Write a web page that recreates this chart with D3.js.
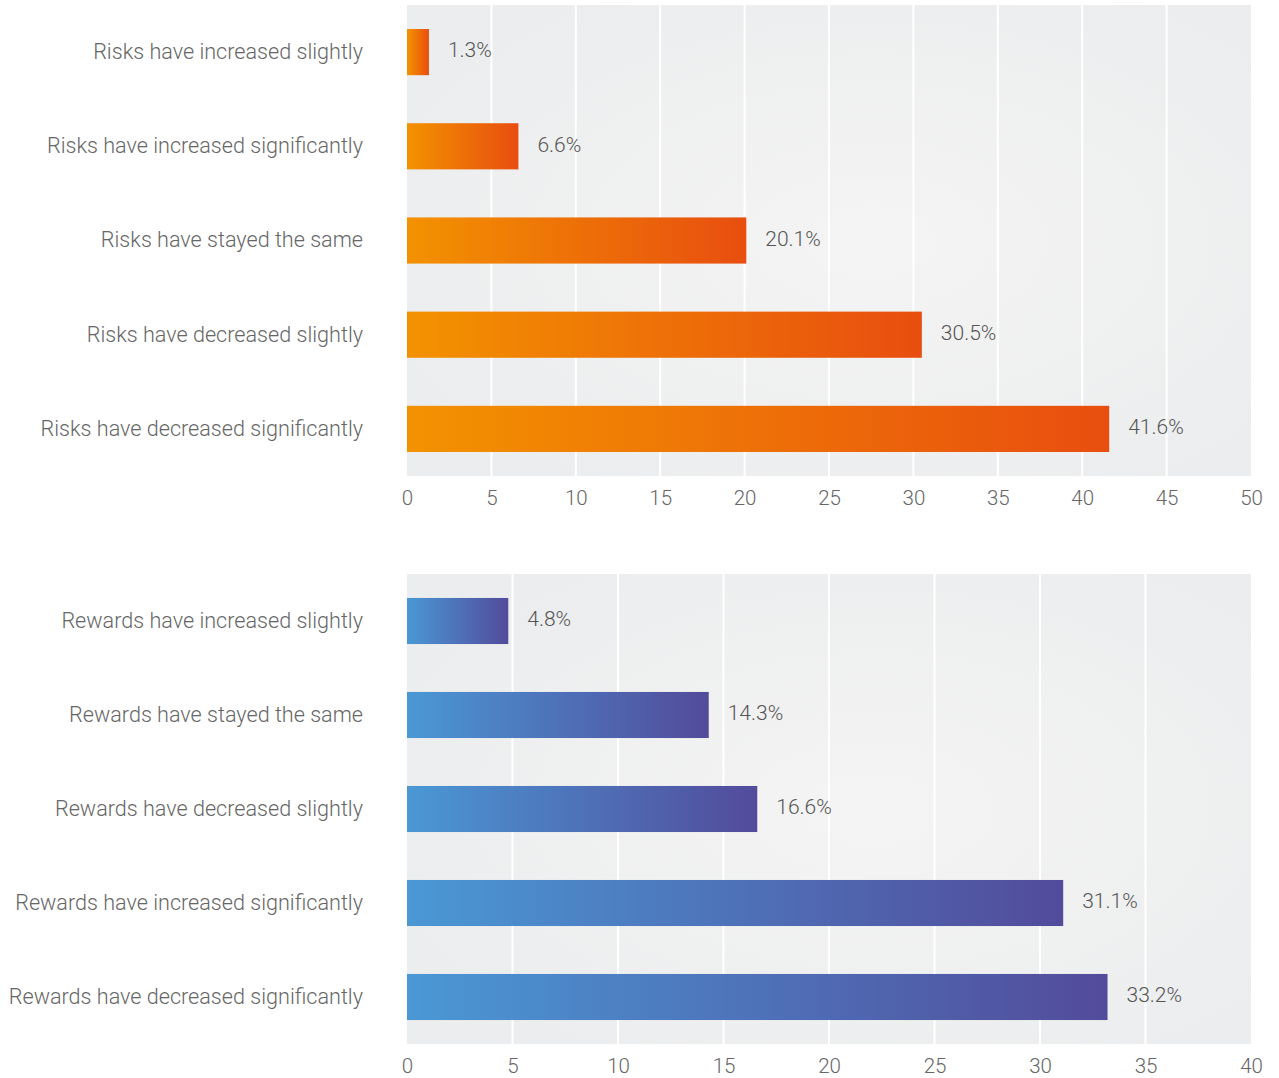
<!DOCTYPE html>
<html>
<head>
<meta charset="utf-8">
<script src="https://cdn.jsdelivr.net/npm/d3@7"></script>
<style>
  html, body { margin: 0; padding: 0; background: #fff; }
  svg { display: block; font-family: Roboto, "Open Sans", sans-serif; }
</style>
</head>
<body>
<svg id="chart" width="1279" height="1078"></svg>
<script>
// Survey answers: how risks and rewards have changed (percent of respondents)
const riskCategories = [
  "Risks have increased slightly",
  "Risks have increased significantly",
  "Risks have stayed the same",
  "Risks have decreased slightly",
  "Risks have decreased significantly"
];
const riskValues = [1.3, 6.6, 20.1, 30.5, 41.6];
const riskTicks = [0, 5, 10, 15, 20, 25, 30, 35, 40, 45, 50];

const rewardCategories = [
  "Rewards have increased slightly",
  "Rewards have stayed the same",
  "Rewards have decreased slightly",
  "Rewards have increased significantly",
  "Rewards have decreased significantly"
];
const rewardValues = [4.8, 14.3, 16.6, 31.1, 33.2];
const rewardTicks = [0, 5, 10, 15, 20, 25, 30, 35, 40];

const svg = d3.select("#chart");
const defs = svg.append("defs");

function linear(id, c0, c1) {
  const g = defs.append("linearGradient").attr("id", id)
    .attr("x1", "0%").attr("x2", "100%").attr("y1", "0%").attr("y2", "0%");
  g.append("stop").attr("offset", "0%").attr("stop-color", c0);
  g.append("stop").attr("offset", "100%").attr("stop-color", c1);
}
linear("gradRisk", "#f39200", "#e84e0f");
linear("gradReward", "#4a98d5", "#524b9b");

const bg = defs.append("radialGradient").attr("id", "plotBg")
  .attr("cx", "55%").attr("cy", "50%").attr("r", "60%");
bg.append("stop").attr("offset", "0%").attr("stop-color", "#f4f4f4");
bg.append("stop").attr("offset", "100%").attr("stop-color", "#ecedee");

function drawPanel(cfg) {
  const { top, bottom, left, right, categories, values, ticks, gradient } = cfg;
  const x = d3.scaleLinear().domain([ticks[0], ticks[ticks.length - 1]]).range([left, right]);
  const y = d3.scaleBand().domain(categories).range([top, bottom]).paddingInner(0.51).paddingOuter(0.255);

  const g = svg.append("g");

  g.append("rect")
    .attr("x", left).attr("y", top)
    .attr("width", right - left).attr("height", bottom - top)
    .attr("fill", "url(#plotBg)");

  g.append("g").selectAll("line")
    .data(ticks.slice(1, -1))
    .join("line")
    .attr("x1", d => x(d)).attr("x2", d => x(d))
    .attr("y1", top).attr("y2", bottom)
    .attr("stroke", "#ffffff").attr("stroke-width", 2);

  const rows = g.append("g").selectAll("g")
    .data(categories.map((c, i) => ({ c, v: values[i] })))
    .join("g");

  rows.append("rect")
    .attr("x", x(0))
    .attr("y", d => y(d.c))
    .attr("width", d => x(d.v) - x(0))
    .attr("height", y.bandwidth())
    .attr("fill", `url(#${gradient})`);

  rows.append("text")
    .attr("x", d => x(d.v) + 19)
    .attr("y", d => y(d.c) + y.bandwidth() / 2 - 2)
    .attr("dy", "0.35em")
    .attr("font-size", 21).attr("font-weight", 300)
    .attr("fill", "#555")
    .text(d => d.v.toFixed(1) + "%");

  // category axis
  const yAxis = g.append("g").attr("transform", `translate(${left},0)`)
    .call(d3.axisLeft(y).tickSize(0).tickPadding(44));
  yAxis.select(".domain").remove();
  yAxis.selectAll("text")
    .attr("font-size", 21.6).attr("font-weight", 300)
    .attr("fill", "#666").attr("font-family", "Roboto, sans-serif");

  // value axis
  const xAxis = g.append("g").attr("transform", `translate(0,${bottom})`)
    .call(d3.axisBottom(x).tickValues(ticks).tickSize(0).tickPadding(14).tickFormat(d3.format("d")));
  xAxis.select(".domain").remove();
  xAxis.selectAll("text")
    .attr("font-size", 20.5).attr("font-weight", 300)
    .attr("fill", "#666").attr("font-family", "Roboto, sans-serif");
}

drawPanel({
  top: 5, bottom: 476, left: 407, right: 1251,
  categories: riskCategories, values: riskValues, ticks: riskTicks, gradient: "gradRisk"
});
drawPanel({
  top: 574, bottom: 1044, left: 407, right: 1251,
  categories: rewardCategories, values: rewardValues, ticks: rewardTicks, gradient: "gradReward"
});
</script>
</body>
</html>
